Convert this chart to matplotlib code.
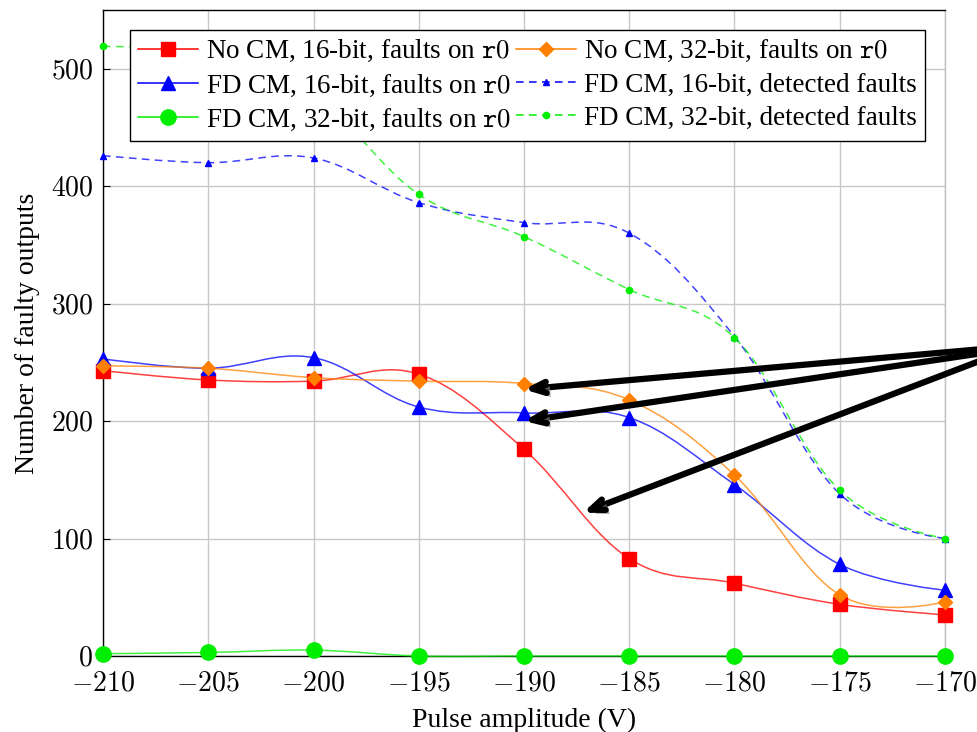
import numpy as np
import matplotlib
matplotlib.use("Agg")
import matplotlib.pyplot as plt
from matplotlib.path import Path
from matplotlib.patches import PathPatch
from matplotlib.lines import Line2D
import matplotlib.patheffects as pe

plt.rcParams['font.family'] = ['Liberation Serif', 'DejaVu Serif']
plt.rcParams['mathtext.fontset'] = 'cm'

amplitude = [-210, -205, -200, -195, -190, -185, -180, -175, -170]
nocm_16 = [243, 235, 234, 240, 176, 83, 62, 44, 35]
nocm_32 = [247, 245, 237, 234, 232, 218, 154, 52, 46]
fd_16 = [253, 245, 254, 212, 207, 203, 146, 78, 56]
fd_16_detected = [426, 420, 424, 386, 369, 360, 272, 138, 100]
fd_32 = [2, 3, 5, 0, 0, 0, 0, 0, 0]
fd_32_detected = [519, 512, 478, 393, 357, 312, 271, 141, 100]

labels = [
    r"No CM, 16-bit, faults on $\mathtt{r0}$",
    r"FD CM, 16-bit, faults on $\mathtt{r0}$",
    r"FD CM, 32-bit, faults on $\mathtt{r0}$",
    r"No CM, 32-bit, faults on $\mathtt{r0}$",
    "FD CM, 16-bit, detected faults",
    "FD CM, 32-bit, detected faults",
]


def smooth_path(xs, ys, tension=0.55 / 3):
    # bezier through the points, like tikz "smooth"
    p = np.column_stack([xs, ys]).astype(float)
    verts = [p[0]]
    codes = [Path.MOVETO]
    n = len(p)
    for i in range(n - 1):
        d0 = (p[i + 1] - p[i - 1]) if i > 0 else np.zeros(2)
        d1 = (p[i + 2] - p[i]) if i + 2 < n else np.zeros(2)
        c1 = p[i] + tension * d0
        c2 = p[i + 1] - tension * d1
        verts += [c1, c2, p[i + 1]]
        codes += [Path.CURVE4] * 3
    return Path(verts, codes)


fig = plt.figure(figsize=(9.78, 7.32), dpi=100)
ax = fig.add_axes([103 / 978, 76 / 732, 842 / 978, 646 / 732])

dash = (0, (5, 3.5))
series = [
    (nocm_16, '#ff0000', '-', 's', 10),
    (fd_16, '#0000ff', '-', '^', 10),
    (fd_32, '#00ee00', '-', 'o', 11),
    (nocm_32, '#ff8000', '-', 'D', 7),
    (fd_16_detected, '#0000ff', dash, '^', 4),
    (fd_32_detected, '#00ee00', dash, 'o', 4.5),
]

handles = []
for (vals, col, ls, mk, ms), lab in zip(series, labels):
    patch = PathPatch(smooth_path(amplitude, vals), fill=False, edgecolor=col,
                      linestyle=ls, lw=1.1, alpha=0.75, zorder=3, clip_on=False)
    ax.add_patch(patch)
    ax.plot(amplitude, vals, ls='none', marker=mk, ms=ms, color=col, zorder=4,
            clip_on=False)
    handles.append(Line2D([], [], color=col, ls=ls, lw=1.1, marker=mk, ms=ms))

ax.set_xlim(-210, -170)
ax.set_ylim(0, 550)
ax.set_xticks(amplitude)
ax.set_yticks([0, 100, 200, 300, 400, 500])
ax.xaxis.set_major_formatter(lambda v, pos: f"${v:g}$")
ax.yaxis.set_major_formatter(lambda v, pos: f"${v:g}$")
ax.tick_params(direction='in', labelsize=20, length=5, width=0.8)
ax.tick_params(axis='x', pad=11)
ax.tick_params(axis='y', pad=7)
ax.grid(True, color='#c8c8c8', lw=1.0)
ax.set_axisbelow(True)
for s in ax.spines.values():
    s.set_linewidth(1.0)
ax.spines['right'].set_color('#c0c0c0')

ax.set_xlabel("Pulse amplitude (V)", fontsize=20, labelpad=8)
ax.set_ylabel("Number of faulty outputs", fontsize=20, labelpad=8)

leg = ax.legend(handles, labels, ncol=2, loc='upper left',
                bbox_to_anchor=(27 / 842, 1 - 20 / 646), fontsize=19.5,
                frameon=True, fancybox=False, edgecolor='black', framealpha=1,
                handlelength=2.2, handletextpad=0.3, columnspacing=0.2,
                labelspacing=0.3, borderpad=0.3, numpoints=1,
                borderaxespad=0)
leg.get_frame().set_linewidth(1.0)
leg.set_zorder(10)

# arrows coming from outside the right edge
tips = [(-190, 227), (-190, 200), (-187.2, 122)]
starts = [(-167.8, 262), (-167.8, 259), (-167.8, 255)]
shadow = [pe.SimplePatchShadow(offset=(3, -3), shadow_rgbFace='#808080', alpha=0.6),
          pe.Normal()]
for tip, start in zip(tips, starts):
    ax.annotate("", xy=tip, xytext=start, annotation_clip=False,
                arrowprops=dict(arrowstyle='->,head_length=1.0,head_width=0.4',
                                lw=4.5, color='black', shrinkA=0, shrinkB=0,
                                path_effects=shadow),
                zorder=11)

fig.savefig("out.png", dpi=100)
